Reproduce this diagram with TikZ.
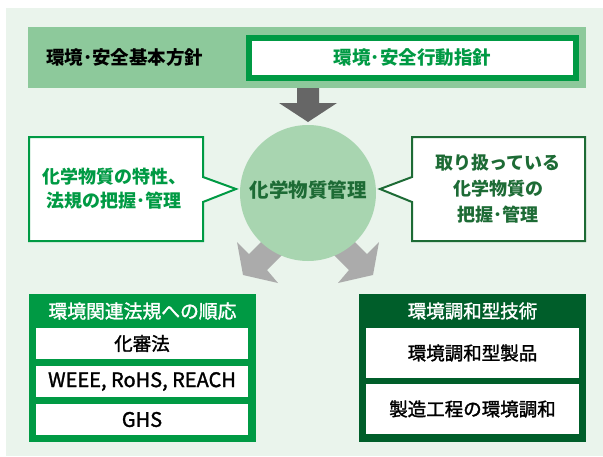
\documentclass[tikz,border=0pt]{standalone}
\usepackage{fontspec}
\setmainfont{Noto Sans CJK JP}
\newfontfamily\jpmed[FakeBold=1.5]{Noto Sans CJK JP}
\definecolor{bgc}{HTML}{EAF4EC}
\definecolor{band}{HTML}{8DC99B}
\definecolor{grn}{HTML}{009A44}
\definecolor{dgrn}{HTML}{005E2A}
\definecolor{txdg}{HTML}{1D6B35}
\definecolor{circ}{HTML}{A8D5B0}
\definecolor{arrd}{HTML}{666666}
\definecolor{arrl}{HTML}{ABABAB}
\begin{document}
\begin{tikzpicture}[x=1pt,y=-1pt,
  txt/.style={inner sep=0pt, font=\bfseries\fontsize{18.5}{24}\selectfont},
  rowbox/.style={fill=white, inner sep=0pt, font=\jpmed\fontsize{18.5}{20}\selectfont, text=black},
  callout/.style={draw, fill=white, line width=2pt, line join=miter}
]
\useasboundingbox (0,0) rectangle (603,456);
\fill[bgc] (6,8) rectangle (603,456);

% top band
\node[fill=band, minimum width=558pt, minimum height=61pt, inner sep=0pt] (band) at (307,57.5) {};
\node[txt, text=black, anchor=west] (policy) at (46,57.5) {環境･安全基本方針};
\node[draw=grn, line width=6pt, fill=white, minimum width=327pt, minimum height=40pt, inner sep=0pt,
      txt, text=grn] (guide) at (412.5,58) {環境･安全行動指針};

% top arrow
\fill[arrd] (297,88) -- (319,88) -- (319,103) -- (337,103) -- (308,122) -- (279,103) -- (297,103) -- cycle;

% bottom arrows
\fill[arrl] (243,275) -- (237,242) -- (249,254) -- (289,214) -- (307,230) -- (267,270) -- (278,283) -- cycle;
\fill[arrl] (373,275) -- (379,242) -- (367,254) -- (327,214) -- (309,230) -- (349,270) -- (338,283) -- cycle;

% circle
\node[circle, fill=circ, minimum size=136pt, inner sep=0pt] (c) at (308,193) {};
\node[txt, text=txdg, font=\bfseries\fontsize{19.5}{24}\selectfont] (ctext) at (308,190) {化学物質管理};

% callouts
\draw[callout, draw=grn] (29,137) -- (203,137) -- (203,177) -- (236,189) -- (203,202) -- (203,241) -- (29,241) -- cycle;
\node[txt, text=grn, align=center, font=\bfseries\fontsize{18}{24}\selectfont] (ltext) at (114,189) {化学物質の特性、\\法規の把握･管理};
\draw[callout, draw=txdg] (585,137) -- (412,137) -- (412,177) -- (380,189) -- (412,202) -- (412,241) -- (585,241) -- cycle;
\node[txt, text=txdg, align=center, font=\bfseries\fontsize{18}{26}\selectfont] (rtext) at (498,189) {取り扱っている\\化学物質の\\把握･管理};

% bottom left box
\node[fill=grn, minimum width=227pt, minimum height=148pt, inner sep=0pt] (lbox) at (142.5,368) {};
\node[txt, text=white, font=\jpmed\fontsize{18.8}{20}\selectfont] (lhead) at (142.5,311) {環境関連法規への順応};
\node[rowbox, minimum width=212pt, minimum height=31pt] (l1) at (142,343.5) {化審法};
\node[rowbox, minimum width=212pt, minimum height=31pt, font=\jpmed\fontsize{20}{20}\selectfont] (l2) at (142,381.5) {WEEE, RoHS, REACH};
\node[rowbox, minimum width=212pt, minimum height=31pt, font=\jpmed\fontsize{20}{20}\selectfont] (l3) at (142,419.5) {GHS};

% bottom right box
\node[fill=dgrn, minimum width=227pt, minimum height=148pt, inner sep=0pt] (rbox) at (472.5,368) {};
\node[txt, text=white, font=\jpmed\fontsize{18.5}{20}\selectfont] (rhead) at (472.5,311) {環境調和型技術};
\node[rowbox, minimum width=213pt, minimum height=50pt] (r1) at (472.5,353) {環境調和型製品};
\node[rowbox, minimum width=213pt, minimum height=50pt] (r2) at (472.5,409) {製造工程の環境調和};
\end{tikzpicture}
\end{document}
